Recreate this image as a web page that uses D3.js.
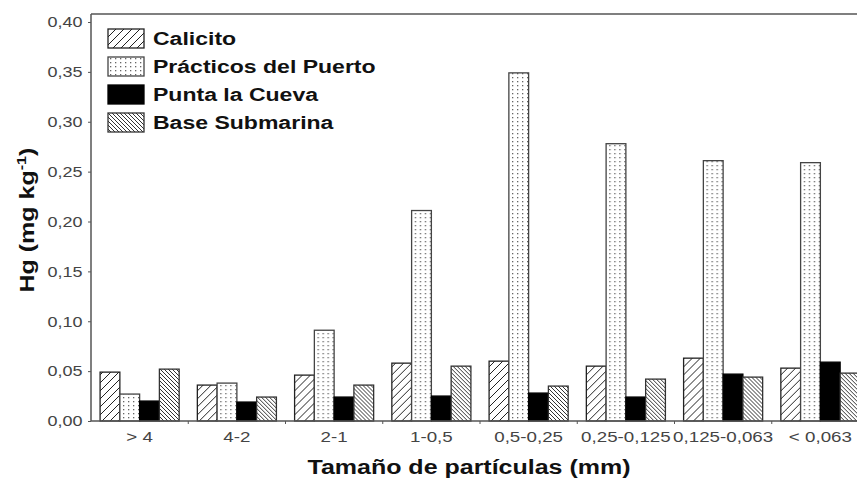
<!DOCTYPE html>
<html><head><meta charset="utf-8">
<script src="https://cdn.jsdelivr.net/npm/d3@7"></script>
<style>body{margin:0;background:#fff}svg{display:block;font-family:"Liberation Sans",Arial,sans-serif}</style>
</head><body><div id="c"></div>
<script>
const categories = ["> 4","4-2","2-1","1-0,5","0,5-0,25","0,25-0,125","0,125-0,063","< 0,063"];
const seriesNames = ["Calicito","Prácticos del Puerto","Punta la Cueva","Base Submarina"];
const calicito = [0.049,0.036,0.046,0.058,0.060,0.055,0.063,0.053];
const practicos = [0.027,0.038,0.091,0.211,0.349,0.278,0.261,0.259];
const punta = [0.020,0.019,0.024,0.025,0.028,0.024,0.047,0.059];
const base = [0.052,0.024,0.036,0.055,0.035,0.042,0.044,0.048];
const yTicks = [0,0.05,0.10,0.15,0.20,0.25,0.30,0.35,0.40];
const seriesValues = [calicito, practicos, punta, base];

const W = 857, H = 481;
const svg = d3.select("#c").append("svg").attr("width", W).attr("height", H);
const defs = svg.append("defs");

// patterns
const p1 = defs.append("pattern").attr("id","pCal").attr("patternUnits","userSpaceOnUse").attr("width",8).attr("height",8);
p1.append("rect").attr("width",8).attr("height",8).attr("fill","#fff");
p1.append("path").attr("d","M-2,2 L2,-2 M0,8 L8,0 M6,10 L10,6").attr("stroke","#222").attr("stroke-width",1);
const p2 = defs.append("pattern").attr("id","pPra").attr("patternUnits","userSpaceOnUse").attr("width",5).attr("height",4);
p2.append("rect").attr("width",5).attr("height",4).attr("fill","#fff");
p2.append("rect").attr("x",2).attr("y",1).attr("width",1.3).attr("height",1.3).attr("fill","#666");
const p4 = defs.append("pattern").attr("id","pBas").attr("patternUnits","userSpaceOnUse").attr("width",4).attr("height",4);
p4.append("rect").attr("width",4).attr("height",4).attr("fill","#fff");
p4.append("path").attr("d","M-1,-1 L5,5 M-1,3 L1,5 M3,-1 L5,1").attr("stroke","#333").attr("stroke-width",1);
const fills = ["url(#pCal)","url(#pPra)","#000","url(#pBas)"];
const strokes = ["#222","#444","#000","#333"];

const x0 = 91, xEnd = 869, yTop = 14, yBot = 421;
const x = d3.scaleBand().domain(categories).range([x0, xEnd]).paddingInner(0).paddingOuter(0);
const xs = d3.scaleBand().domain(d3.range(4)).range([0, x.bandwidth()]).paddingOuter(0.46).paddingInner(0);
const y = d3.scaleLinear().domain([0,0.4]).range([yBot, 22]);

// bars
categories.forEach((c,i)=>{
  const g = svg.append("g").attr("transform",`translate(${x(c)},0)`);
  seriesValues.forEach((vals,s)=>{
    g.append("rect").attr("x",xs(s)).attr("y",y(vals[i])).attr("width",xs.bandwidth()).attr("height",yBot-y(vals[i]))
      .attr("fill",fills[s]).attr("stroke",strokes[s]).attr("stroke-width",1.3);
  });
});

// frame
svg.append("line").attr("x1",x0).attr("x2",W).attr("y1",yTop).attr("y2",yTop).attr("stroke","#555").attr("stroke-width",1.5);
svg.append("line").attr("x1",x0).attr("x2",W).attr("y1",yBot).attr("y2",yBot).attr("stroke","#555").attr("stroke-width",1.5);
svg.append("line").attr("x1",x0).attr("x2",x0).attr("y1",yTop).attr("y2",yBot).attr("stroke","#555").attr("stroke-width",1.5);

// y axis
const ya = svg.append("g").attr("transform",`translate(${x0},0)`)
  .call(d3.axisLeft(y).tickValues(yTicks).tickSize(3).tickPadding(4).tickFormat(d=>d3.format(".2f")(d).replace(".",",")));
ya.select(".domain").remove();
ya.selectAll("line").attr("stroke","#555");
ya.selectAll("text").attr("font-size",15).attr("fill","#444").attr("font-family","Liberation Sans, Arial, sans-serif").attr("transform","scale(1.2,1)");

// x axis
const xa = svg.append("g").attr("transform",`translate(0,${yBot})`)
  .call(d3.axisBottom(x).tickSize(0).tickPadding(10));
xa.select(".domain").remove();
xa.selectAll("text").attr("font-size",15).attr("fill","#444").attr("font-family","Liberation Sans, Arial, sans-serif").attr("transform","scale(1.25,1)");
categories.slice(1).forEach(c=>{
  svg.append("line").attr("x1",x(c)).attr("x2",x(c)).attr("y1",yBot).attr("y2",yBot+3).attr("stroke","#555");
});

// axis titles
svg.append("text").attr("transform","translate(469,474) scale(1.25,1)").attr("text-anchor","middle").attr("font-size",20).attr("font-weight","bold").attr("fill","#111").text("Tamaño de partículas (mm)");
const yt = svg.append("text").attr("transform","translate(34,220) rotate(-90) scale(1.25,1)").attr("text-anchor","middle").attr("font-size",20).attr("font-weight","bold").attr("fill","#111");
yt.append("tspan").text("Hg (mg kg");
yt.append("tspan").attr("dy",-8).attr("font-size",13).text("-1");
yt.append("tspan").attr("dy",8).text(")");

// legend
const lg = svg.append("g").attr("transform","translate(108,29)");
seriesNames.forEach((n,i)=>{
  const r = lg.append("g").attr("transform",`translate(0,${i*28})`);
  r.append("rect").attr("width",36).attr("height",19).attr("fill",fills[i]).attr("stroke",strokes[i]).attr("stroke-width",1.3);
  r.append("text").attr("transform","translate(45,16) scale(1.28,1)").attr("font-size",18).attr("font-weight","bold").attr("fill","#111").text(n);
});
</script></body></html>
